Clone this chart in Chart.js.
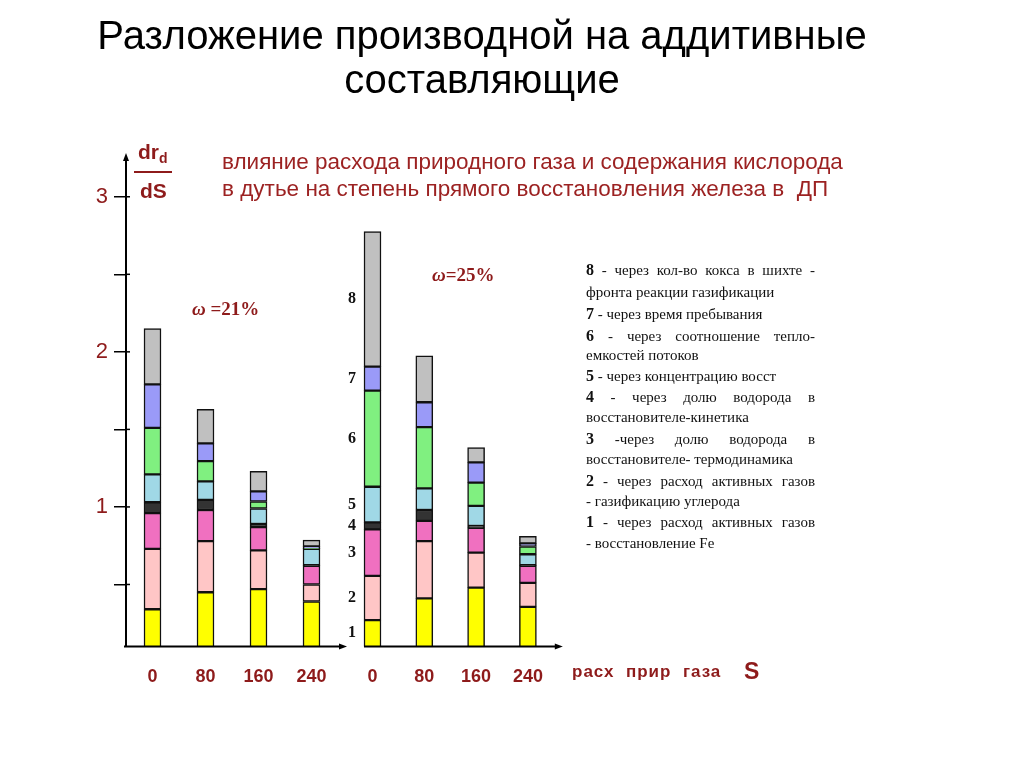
<!DOCTYPE html>
<html><head><meta charset="utf-8">
<script src="https://cdn.jsdelivr.net/npm/chart.js@4"></script>
<style>
html,body{margin:0;padding:0;background:#fff;width:1024px;height:768px;overflow:hidden}
#wrap{position:relative;width:1024px;height:768px}
canvas{position:absolute;left:0;top:0}
.t{position:absolute;white-space:nowrap;line-height:1}
.title{font-family:"Liberation Sans",Arial,sans-serif;font-size:40px;color:#000;left:0;width:964px;text-align:center}
.sub{font-family:"Liberation Sans",Arial,sans-serif;font-size:22.5px;color:#9C2222;left:222px}
.red{color:#8E1B1B;font-family:"Liberation Sans",Arial,sans-serif;font-weight:bold}
.om{font-family:"Liberation Serif","Times New Roman",serif;font-weight:bold;color:#8E1B1B;font-size:19px}
.lg{font-family:"Liberation Serif","Times New Roman",serif;font-size:15px;color:#111;left:586px;width:229px}
.lg b{font-size:16px}
.j{text-align:justify;text-align-last:justify}
</style></head><body>
<div id="wrap">
<canvas id="c1" width="1024" height="768"></canvas>
<canvas id="c2" width="1024" height="768"></canvas>

<div class="t title" style="top:15px">Разложение производной на аддитивные</div>
<div class="t title" style="top:59px">составляющие</div>

<div class="t sub" style="top:151px">влияние расхода природного газа и содержания кислорода</div>
<div class="t sub" style="top:178px">в дутье на степень прямого восстановления железа в&nbsp; ДП</div>

<div class="t red" style="left:138px;top:141px;font-size:21px">dr<span style="font-size:14px;position:relative;top:4px">d</span></div>
<div style="position:absolute;left:134px;top:171px;width:38px;height:2px;background:#8E1B1B"></div>
<div class="t red" style="left:140px;top:180px;font-size:21px">dS</div>

<div class="t om" style="left:192px;top:299px"><i>ω</i> =21%</div>
<div class="t om" style="left:432px;top:265px"><i>ω</i>=25%</div>

<div class="t red" style="left:572px;top:663px;font-size:17px;letter-spacing:1px">расх&nbsp; прир&nbsp; газа</div>
<div class="t red" style="left:744px;top:660px;font-size:23px">S</div>

<div class="t lg j" style="top:262px"><b>8</b> - через кол-во кокса в шихте -</div>
<div class="t lg" style="top:285px">фронта реакции газификации</div>
<div class="t lg" style="top:306px"><b>7</b> - через время пребывания</div>
<div class="t lg j" style="top:328px"><b>6</b> - через соотношение тепло-</div>
<div class="t lg" style="top:348px">емкостей потоков</div>
<div class="t lg" style="top:368px"><b>5</b> - через концентрацию восст</div>
<div class="t lg j" style="top:389px"><b>4</b> - через долю водорода в</div>
<div class="t lg" style="top:410px">восстановителе-кинетика</div>
<div class="t lg j" style="top:431px"><b>3</b> -через долю водорода в</div>
<div class="t lg" style="top:452px">восстановителе- термодинамика</div>
<div class="t lg j" style="top:473px"><b>2</b> - через расход активных газов</div>
<div class="t lg" style="top:494px">- газификацию углерода</div>
<div class="t lg j" style="top:514px"><b>1</b> - через расход активных газов</div>
<div class="t lg" style="top:536px">- восстановление Fe</div>
</div>

<script>
// categories (natural gas rate S)
const gasRates = ['0', '80', '160', '240'];
// additive components, bottom to top
const componentNames = ['1', '2', '3', '4', '5', '6', '7', '8'];
const componentColors = ['#FFFF00', '#FFC6C6', '#F070C0', '#333333', '#A0D8E6', '#80F080', '#9A9AF8', '#C0C0C0'];
// y-axis ticks
const yTickValues = [0.5, 1, 1.5, 2, 2.5, 3];

// omega = 21%
const w21_c1 = [0.34, 0.45, 0.47, 0.39];
const w21_c2 = [0.39, 0.33, 0.25, 0.11];
const w21_c3 = [0.23, 0.20, 0.15, 0.12];
const w21_c4 = [0.07, 0.065, 0.02, 0.005];
const w21_c5 = [0.18, 0.12, 0.10, 0.105];
const w21_c6 = [0.30, 0.13, 0.045, 0.003];
const w21_c7 = [0.28, 0.115, 0.065, 0.013];
const w21_c8 = [0.36, 0.22, 0.13, 0.04];

// omega = 25%
const w25_c1 = [0.27, 0.41, 0.48, 0.355];
const w25_c2 = [0.285, 0.37, 0.225, 0.155];
const w25_c3 = [0.30, 0.13, 0.16, 0.11];
const w25_c4 = [0.045, 0.07, 0.012, 0.005];
const w25_c5 = [0.23, 0.14, 0.13, 0.07];
const w25_c6 = [0.62, 0.395, 0.15, 0.05];
const w25_c7 = [0.155, 0.16, 0.13, 0.02];
const w25_c8 = [0.87, 0.30, 0.095, 0.045];

const w21 = [w21_c1, w21_c2, w21_c3, w21_c4, w21_c5, w21_c6, w21_c7, w21_c8];
const w25 = [w25_c1, w25_c2, w25_c3, w25_c4, w25_c5, w25_c6, w25_c7, w25_c8];

const DARKRED = '#8E1B1B';
const Y_MIN = 0.1, Y_MAX = 3.25;

function makeDatasets(series) {
  return series.map((d, i) => ({
    label: componentNames[i],
    data: d,
    backgroundColor: componentColors[i],
    borderColor: '#111',
    borderWidth: 1.5,
    borderSkipped: false,
    barThickness: 17
  }));
}

function arrowAxes(opts) {
  return {
    id: 'arrowAxes',
    afterDatasetsDraw(chart) {
      const ctx = chart.ctx, a = chart.chartArea;
      ctx.save();
      ctx.strokeStyle = '#000';
      ctx.fillStyle = '#000';
      ctx.lineWidth = 2;
      const yb = a.bottom;
      let x0 = a.left - 2;
      if (opts.xStartAtBar) {
        const el = chart.getDatasetMeta(0).data[0];
        x0 = el.x - el.width / 2;
      }
      const x1 = a.right + 4;
      ctx.beginPath(); ctx.moveTo(x0, yb); ctx.lineTo(x1, yb); ctx.stroke();
      ctx.beginPath(); ctx.moveTo(x1 + 5, yb); ctx.lineTo(x1 - 3, yb - 3); ctx.lineTo(x1 - 3, yb + 3); ctx.closePath(); ctx.fill();
      if (opts.yAxis) {
        const xl = a.left;
        const yt = a.top;
        ctx.beginPath(); ctx.moveTo(xl, yb); ctx.lineTo(xl, yt); ctx.stroke();
        ctx.beginPath(); ctx.moveTo(xl, yt - 5); ctx.lineTo(xl - 3, yt + 3); ctx.lineTo(xl + 3, yt + 3); ctx.closePath(); ctx.fill();
        const ys = chart.scales.y;
        ctx.lineWidth = 1.5;
        ys.ticks.forEach(t => {
          const py = ys.getPixelForValue(t.value);
          ctx.beginPath(); ctx.moveTo(xl, py); ctx.lineTo(xl + 4, py); ctx.stroke();
        });
      }
      ctx.restore();
    }
  };
}

const segmentLabels = {
  id: 'segmentLabels',
  afterDatasetsDraw(chart) {
    const ctx = chart.ctx, a = chart.chartArea;
    ctx.save();
    ctx.font = 'bold 16px "Liberation Serif", "Times New Roman", serif';
    ctx.fillStyle = '#111';
    ctx.textAlign = 'center';
    ctx.textBaseline = 'middle';
    chart.data.datasets.forEach((ds, i) => {
      const el = chart.getDatasetMeta(i).data[0];
      const top = el.y, base = Math.min(el.base, a.bottom);
      ctx.fillText(componentNames[i], el.x - el.width / 2 - 12, (top + base) / 2);
    });
    ctx.restore();
  }
};

function baseOptions(padding, showY) {
  return {
    responsive: false,
    animation: false,
    layout: { padding },
    plugins: { legend: { display: false }, tooltip: { enabled: false } },
    scales: {
      x: {
        type: 'category',
        stacked: true,
        offset: true,
        grid: { display: false },
        border: { display: false },
        ticks: { color: DARKRED, font: { family: '"Liberation Sans", Arial, sans-serif', size: 18, weight: 'bold' }, padding: 12, maxRotation: 0 },
        afterFit(s) { s.height = 40; }
      },
      y: {
        type: 'linear',
        stacked: true,
        min: Y_MIN,
        max: Y_MAX,
        display: showY,
        afterBuildTicks(s) { s.ticks = yTickValues.map(v => ({ value: v })); },
        grid: { display: true, drawOnChartArea: false, drawTicks: true, tickLength: 12, color: '#000', lineWidth: 1.5 },
        border: { display: false },
        ticks: {
          color: DARKRED,
          font: { family: '"Liberation Sans", Arial, sans-serif', size: 22 },
          padding: 6,
          callback: v => (Number.isInteger(v) ? String(v) : '')
        },
        afterFit(s) { s.width = showY ? 40 : 0; }
      }
    }
  };
}

new Chart(document.getElementById('c1'), {
  type: 'bar',
  data: { labels: gasRates, datasets: makeDatasets(w21) },
  options: baseOptions({ left: 86, right: 686, top: 158, bottom: 81.5 }, true),
  plugins: [arrowAxes({ yAxis: true })]
});

new Chart(document.getElementById('c2'), {
  type: 'bar',
  data: { labels: gasRates, datasets: makeDatasets(w25) },
  options: baseOptions({ left: 346.6, right: 470.2, top: 158, bottom: 81.5 }, false),
  plugins: [arrowAxes({ yAxis: false, xStartAtBar: true }), segmentLabels]
});
</script>
</body></html>
